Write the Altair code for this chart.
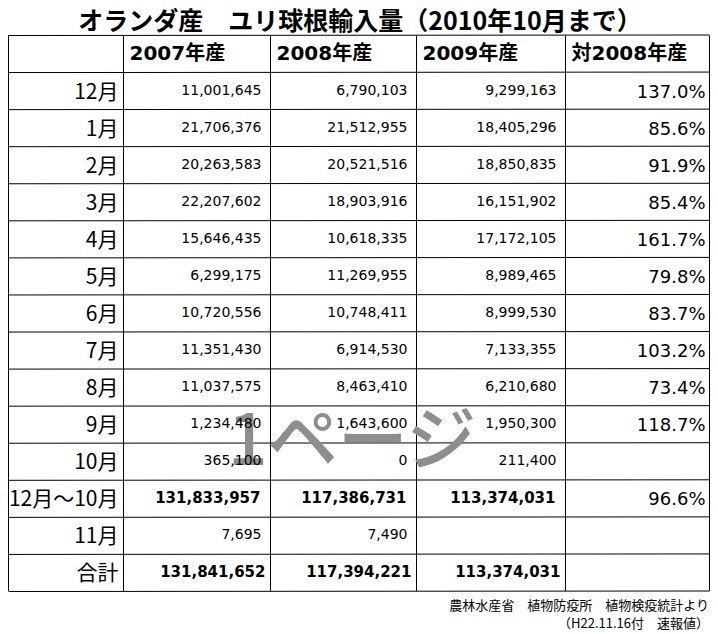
import altair as alt
import pandas as pd

# ---------------- data ----------------
title_text = "オランダ産　ユリ球根輸入量（2010年10月まで）"
headers = ["2007年産", "2008年産", "2009年産", "対2008年産"]
months = ["12月", "1月", "2月", "3月", "4月", "5月", "6月", "7月", "8月", "9月",
          "10月", "12月～10月", "11月", "合計"]
v2007 = [11001645, 21706376, 20263583, 22207602, 15646435, 6299175, 10720556,
         11351430, 11037575, 1234480, 365100, 131833957, 7695, 131841652]
v2008 = [6790103, 21512955, 20521516, 18903916, 10618335, 11269955, 10748411,
         6914530, 8463410, 1643600, 0, 117386731, 7490, 117394221]
v2009 = [9299163, 18405296, 18850835, 16151902, 17172105, 8989465, 8999530,
         7133355, 6210680, 1950300, 211400, 113374031, None, 113374031]
ratio = ["137.0%", "85.6%", "91.9%", "85.4%", "161.7%", "79.8%", "83.7%",
         "103.2%", "73.4%", "118.7%", "", "96.6%", "", ""]
bold_rows = ["12月～10月", "合計"]
source_lines = ["農林水産省　植物防疫所　植物検疫統計より", "（H22.11.16付　速報値）"]
watermark = "1ページ"

# ---------------- layout ----------------
W, H = 702, 626
col_edges_px = [0.5, 115.5, 262.5, 408.5, 557.5, 701.5]
n_rows = len(months) + 1
xscale = alt.Scale(domain=list(range(len(col_edges_px))), range=col_edges_px,
                   zero=False, nice=False)
yscale = alt.Scale(domain=[0, n_rows], range=[27, 583], zero=False, nice=False)

JP = "Noto Sans CJK JP"
NUM = "DejaVu Sans"


def X(f):
    return alt.X(f, type="quantitative", scale=xscale, axis=None)


def Y(f):
    return alt.Y(f, type="quantitative", scale=yscale, axis=None)


# grid lines
grid = []
for k in range(n_rows + 1):
    grid.append({"x": 0, "x2": len(col_edges_px) - 1, "y": k, "y2": k})
for c in range(len(col_edges_px)):
    grid.append({"x": c, "x2": c, "y": 0, "y2": n_rows})
grid_df = pd.DataFrame(grid)

hdr_df = pd.DataFrame({"c": [1, 2, 3, 4], "r": [0.5] * 4, "t": headers})
mon_df = pd.DataFrame({"c": [1] * len(months), "r": [i + 1.5 for i in range(len(months))],
                       "t": months})

cells = []
for i, m in enumerate(months):
    for c, vals in enumerate([v2007, v2008, v2009]):
        if vals[i] is None:
            continue
        cells.append({"m": m, "c": c + 2, "r": i + 1.5, "v": vals[i]})
cell_df = pd.DataFrame(cells)
norm_df = cell_df[~cell_df["m"].isin(bold_rows)]
bold1_df = cell_df[cell_df["m"] == bold_rows[0]]
bold2_df = cell_df[cell_df["m"] == bold_rows[1]]

pct_df = pd.DataFrame({"c": [5] * len(ratio), "r": [i + 1.5 for i in range(len(ratio))],
                       "t": ratio})

layers = []
layers.append(
    alt.Chart(grid_df).mark_rule(color="black", strokeWidth=1, yOffset=0.5)
    .encode(x=X("x"), x2="x2", y=Y("y"), y2="y2")
)
layers.append(
    alt.Chart(pd.DataFrame({"t": [watermark]})).mark_text(
        font=JP, fontSize=70, fontWeight=500, color="#8e8e8e", align="center",
        baseline="middle")
    .encode(x=alt.value(344), y=alt.value(436), text="t:N")
)
layers.append(
    alt.Chart(hdr_df).mark_text(font=NUM + ", " + JP, fontSize=20, fontWeight="bold",
                                align="left", baseline="middle", dx=6, color="black")
    .encode(x=X("c"), y=Y("r"), text="t:N")
)
layers.append(
    alt.Chart(mon_df).mark_text(font=JP, fontSize=21, align="right", baseline="middle",
                                dx=-5, dy=2, color="black")
    .encode(x=X("c"), y=Y("r"), text="t:N")
)
layers.append(
    alt.Chart(norm_df).mark_text(font=NUM, fontSize=14, align="right", baseline="middle",
                                 dx=-9, color="black")
    .encode(x=X("c"), y=Y("r"), text=alt.Text("v:Q", format=",d"))
)
layers.append(
    alt.Chart(bold1_df).mark_text(font=NUM, fontSize=15, fontWeight="bold", align="right",
                                  baseline="middle", dx=-10, color="black")
    .encode(x=X("c"), y=Y("r"), text=alt.Text("v:Q", format=",d"))
)
layers.append(
    alt.Chart(bold2_df).mark_text(font=NUM, fontSize=15, fontWeight="bold", align="right",
                                  baseline="middle", dx=-5, color="black")
    .encode(x=X("c"), y=Y("r"), text=alt.Text("v:Q", format=",d"))
)
layers.append(
    alt.Chart(pct_df).mark_text(font=NUM, fontSize=18, align="right", baseline="middle",
                                dx=-4, dy=2, color="black")
    .encode(x=X("c"), y=Y("r"), text="t:N")
)
layers.append(
    alt.Chart(pd.DataFrame({"t": [title_text]})).mark_text(
        font=JP, fontSize=25, fontWeight="bold", align="center", baseline="middle",
        color="black")
    .encode(x=alt.value(352), y=alt.value(14), text="t:N")
)
layers.append(
    alt.Chart(pd.DataFrame({"t": source_lines, "k": [0, 1]})).mark_text(
        font=JP, fontSize=13, align="right", baseline="middle", color="black")
    .encode(x=alt.value(701), y=alt.Y("k:Q", scale=alt.Scale(domain=[0, 1], range=[598, 616]),
                                       axis=None), text="t:N")
)

chart = (
    alt.layer(*layers)
    .resolve_scale(y="independent")
    .properties(width=W, height=H, autosize="none", padding=0, background="white")
    .configure_view(stroke=None)
)

chart.save("out.html", embed_options={"renderer": "svg", "actions": False})
